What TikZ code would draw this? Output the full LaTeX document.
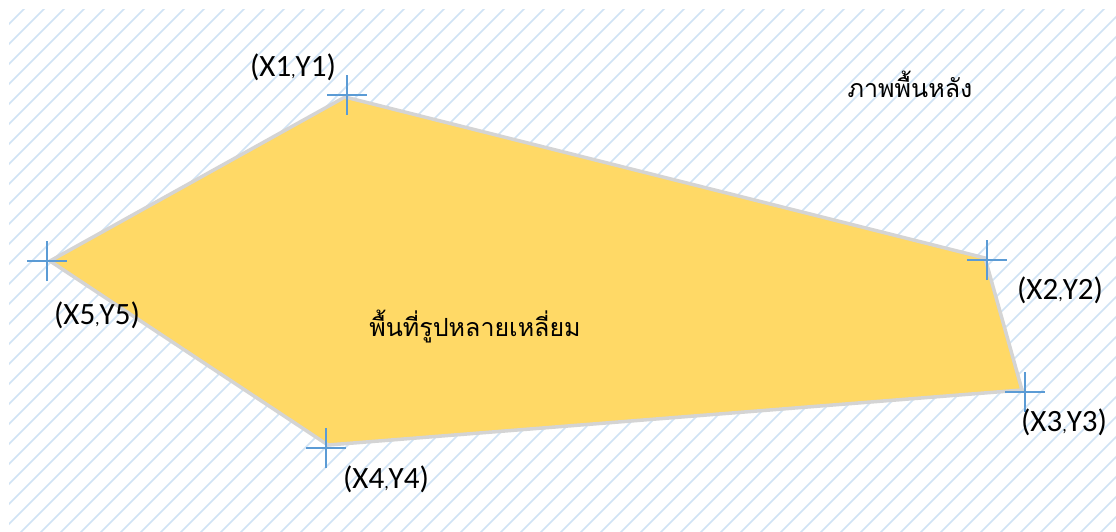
\documentclass[tikz,border=0pt]{standalone}
\usepackage{fontspec}
\setmainfont{Carlito}
\newfontfamily\thaifont[Script=Thai]{Loma}
\definecolor{hatch}{RGB}{208,227,245}
\definecolor{polyfill}{RGB}{255,217,102}
\definecolor{polyedge}{RGB}{212,212,212}
\definecolor{crossc}{RGB}{91,155,213}
\tikzset{
  lbl/.style={inner sep=0pt, font=\fontsize{31}{33}\selectfont, text=black},
  thai/.style={inner sep=0pt, font=\thaifont\fontsize{25}{28}\selectfont, text=black},
  crossarm/.style={draw=crossc, line width=1.8pt},
}
\newcommand{\cm}{{\fontsize{18}{18}\selectfont,}}
\begin{document}
\begin{tikzpicture}[x=1pt,y=-1pt]
\useasboundingbox (0,0) rectangle (1116,532);
\fill[white] (0,0) rectangle (1116,532);
% hatched background
\begin{scope}
  \clip (9,10) rectangle (1116,532);
  \foreach \k in {-30,...,85} {
    \pgfmathsetmacro{\c}{53+20*\k}
    \draw[hatch, line width=1.6pt] (\c-600,600) -- (\c+20,-20);
  }
\end{scope}
% vertices
\coordinate (p1) at (345,97);
\coordinate (p2) at (985,258);
\coordinate (p3) at (1022,390);
\coordinate (p4) at (328,445);
\coordinate (p5) at (50,261);
\draw[fill=polyfill, draw=polyedge, line width=3.5pt, line join=miter]
  (p1) -- (p2) -- (p3) -- (p4) -- (p5) -- cycle;
% crosses
\coordinate (c1) at (347,95);
\coordinate (c2) at (987,260);
\coordinate (c3) at (1025,392);
\coordinate (c4) at (326,448);
\coordinate (c5) at (47,261);
\foreach \c in {c1,c2,c3,c4,c5} {
  \draw[crossarm] ([xshift=-20pt]\c) -- ([xshift=20pt]\c);
  \draw[crossarm] ([yshift=-20pt]\c) -- ([yshift=20pt]\c);
}
% labels
\node[lbl] (l1) at (293,67) {(X1\cm Y1)};
\node[lbl] (l2) at (1060,290) {(X2\cm Y2)};
\node[lbl] (l3) at (1064,422) {(X3\cm Y3)};
\node[lbl] (l4) at (386,479) {(X4\cm Y4)};
\node[lbl] (l5) at (97,315) {(X5\cm Y5)};
\node[thai] (bg) at (910,84) {ภาพพื้นหลัง};
\node[thai] (area) at (475,327) {พื้นที่รูปหลายเหลี่ยม};
\end{tikzpicture}
\end{document}
